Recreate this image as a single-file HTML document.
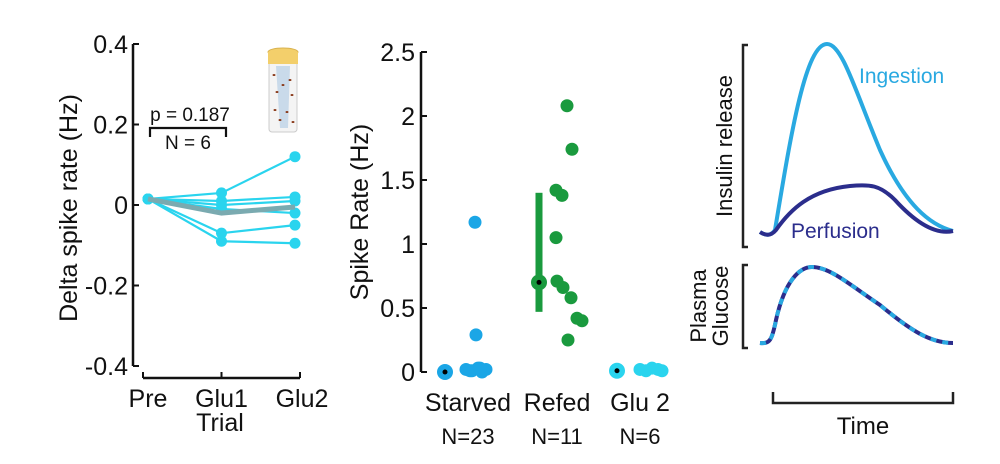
<!DOCTYPE html>
<html><head><meta charset="utf-8"><style>
body{margin:0;background:#fff;}
svg text{font-family:"Liberation Sans",Arial,sans-serif;fill:#111;}
</style></head><body>
<svg width="1000" height="459" viewBox="0 0 1000 459">
<g id="p1"></g>
<g id="p2"></g>
<g id="p3">
  <path d="M748,45 H743 V247 H748" fill="none" stroke="#222" stroke-width="2.5"/>
  <path d="M760,232 C766,236 771,236 775,230 C790,140 805,44 827,44 C842,44 855,90 880,150 C905,205 930,225 953,231" fill="none" stroke="#29a9e1" stroke-width="4"/>
  <path d="M760,232 C766,236 771,236 776,230 C790,210 810,190 850,186 C870,184 880,185 895,200 C915,222 935,235 953,231" fill="none" stroke="#2b2d8c" stroke-width="4"/>
  <text x="859" y="83" font-size="21" style="fill:#29a9e1">Ingestion</text>
  <text x="791" y="238" font-size="21" style="fill:#2b2d8c">Perfusion</text>
  <text transform="translate(732,146) rotate(-90)" font-size="22" text-anchor="middle">Insulin release</text>
  <path d="M748,265 H743 V348 H748" fill="none" stroke="#222" stroke-width="2.5"/>
  <path d="M760,343 C770,344 772,340 776,320 C785,280 800,267 812,267 C830,267 850,285 880,305 C910,330 930,343 953,343" fill="none" stroke="#2b2d8c" stroke-width="4"/>
  <path d="M760,343 C770,344 772,340 776,320 C785,280 800,267 812,267 C830,267 850,285 880,305 C910,330 930,343 953,343" fill="none" stroke="#29a9e1" stroke-width="4" stroke-dasharray="6 6"/>
  <text transform="translate(706,306) rotate(-90)" font-size="22" text-anchor="middle">Plasma</text>
  <text transform="translate(728,306) rotate(-90)" font-size="22" text-anchor="middle">Glucose</text>
  <path d="M773,392 V403 H953 V392" fill="none" stroke="#222" stroke-width="2.5"/>
  <text x="863" y="434" font-size="24" text-anchor="middle">Time</text>
</g>
</svg>
<script>
const NS="http://www.w3.org/2000/svg";
function mk(p,tag,a){const e=document.createElementNS(NS,tag);for(const k in a)e.setAttribute(k,a[k]);p.appendChild(e);return e;}
// ---- Panel 1 data
const trials=["Pre","Glu1","Glu2"];
const cell1=[0.015,0.03,0.12];
const cell2=[0.015,0.01,0.02];
const cell3=[0.015,0.0,0.01];
const cell4=[0.015,-0.01,-0.02];
const cell5=[0.015,-0.07,-0.05];
const cell6=[0.015,-0.09,-0.095];
const meanDelta=[0.015,-0.02,-0.005];
const yTicks1=[0.4,0.2,0,-0.2,-0.4];
const yTickLabels1=["0.4","0.2","0","-0.2","-0.4"];
// ---- Panel 2 data
const groups=["Starved","Refed","Glu 2"];
const groupN=["N=23","N=11","N=6"];
const starvedVals=[1.17,0.29,0.02,0.01,0.03,0.0,0.02,0.01,0.03];
const refedVals=[2.08,1.74,1.42,1.38,1.05,0.71,0.66,0.58,0.42,0.4,0.25];
const glu2Vals=[0.02,0.01,0.03,0.02,0.01];
const groupMedian=[0,0.7,0.01];
const refedErrLow=[0.47];
const refedErrHigh=[1.4];
const yTicks2=[0,0.5,1,1.5,2,2.5];
const yTickLabels2=["0","0.5","1","1.5","2","2.5"];

const p1=document.getElementById('p1');
const y1=v=>205-v*(161/0.4);
const x1=i=>148+i*73.5;
let e=mk(p1,'line',{x1:133,y1:y1(0.4),x2:133,y2:y1(-0.4),stroke:'#111','stroke-width':2.5});


yTicks1.forEach((t,i)=>{
  const l=mk(p1,'line',{x1:133,x2:139,y1:y1(t),y2:y1(t),stroke:'#111','stroke-width':2});
  
  
  const tx=mk(p1,'text',{x:128,y:y1(t)+9,'font-size':25,'text-anchor':'end'});tx.textContent=yTickLabels1[i];
  
  
});
e=mk(p1,'line',{x1:143,x2:300,y1:378,y2:378,stroke:'#111','stroke-width':2.5});


trials.forEach((t,i)=>{
  const xx=x1(i)-(i==0?5:0)+(i==2?5:0);
  const l=mk(p1,'line',{x1:xx,x2:xx,y1:372,y2:378,stroke:'#111','stroke-width':2});
  
  
  const tx=mk(p1,'text',{x:x1(i)+(i==2?7:0),y:407,'font-size':25,'text-anchor':'middle'});tx.textContent=t;
  
  
});
e=mk(p1,'text',{x:220,y:431,'font-size':25,'text-anchor':'middle'});e.textContent='Trial';


e=mk(p1,'text',{transform:'translate(77,208) rotate(-90)','font-size':25,'text-anchor':'middle'});e.textContent='Delta spike rate (Hz)';


[cell1,cell2,cell3,cell4,cell5,cell6].forEach((s,k)=>{
  const pts=s.map((v,i)=>x1(i)+','+y1(v)).join(' ');
  const pl=mk(p1,'polyline',{points:pts,fill:'none',stroke:'#2ad4ee','stroke-width':2.2});
  
  
  s.forEach((v,i)=>{const c=mk(p1,'circle',{cx:x1(i),cy:y1(v),r:5.5,fill:'#2ad4ee'});
    
    });
});
e=mk(p1,'polyline',{points:meanDelta.map((v,i)=>x1(i)+','+y1(v)).join(' '),fill:'none',stroke:'#7aaab0','stroke-width':5});


e=mk(p1,'text',{x:190,y:121,'font-size':19,'text-anchor':'middle'});e.textContent='p = 0.187';


e=mk(p1,'path',{d:'M150,137 V128 H226 V137',fill:'none',stroke:'#111','stroke-width':2.2});


e=mk(p1,'text',{x:188,y:149,'font-size':19,'text-anchor':'middle'});e.textContent='N = 6';


// vial
const vial=mk(p1,'g',{});


mk(vial,'rect',{x:269,y:60,width:28,height:72,rx:3,fill:'#f4f4f4',stroke:'#ccc'});
mk(vial,'path',{d:'M276,66 L290,66 L288,128 L280,128 Z',fill:'#c9daea'});
mk(vial,'ellipse',{cx:283,cy:52,rx:15,ry:4,fill:'#f3cf6b',stroke:'#d9b24f'});
mk(vial,'rect',{x:268,y:52,width:30,height:12,fill:'#f3cf6b'});
[[274,75],[290,80],[277,92],[292,95],[275,110],[287,112],[280,120],[293,122],[283,85]].forEach(p=>mk(vial,'ellipse',{cx:p[0],cy:p[1],rx:1.5,ry:1,fill:'#8a3a1a'}));

// ---- Panel 2
const p2=document.getElementById('p2');
const y2=v=>372-v*128;
e=mk(p2,'line',{x1:421,x2:421,y1:y2(2.5),y2:y2(0),stroke:'#111','stroke-width':2.5});


yTicks2.forEach((t,i)=>{
  const l=mk(p2,'line',{x1:421,x2:427,y1:y2(t),y2:y2(t),stroke:'#111','stroke-width':2});
  
  
  const tx=mk(p2,'text',{x:415,y:y2(t)+9,'font-size':25,'text-anchor':'end'});tx.textContent=yTickLabels2[i];
  
  
});
e=mk(p2,'text',{transform:'translate(368,212) rotate(-90)','font-size':25,'text-anchor':'middle'});e.textContent='Spike Rate (Hz)';


const gx=[468,557,640];
groups.forEach((g,i)=>{
  const t=mk(p2,'text',{x:gx[i],y:411,'font-size':25,'text-anchor':'middle'});t.textContent=g;
  
  
  const n=mk(p2,'text',{x:gx[i],y:444,'font-size':22,'text-anchor':'middle'});n.textContent=groupN[i];
  
  
});
// error bar
e=mk(p2,'rect',{x:535.5,y:y2(refedErrHigh[0]),width:7,height:y2(refedErrLow[0])-y2(refedErrHigh[0]),fill:'#1a9a3e'});


const cols=['#1ba6e6','#1a9a3e','#2ad4ee'];
const jit=[[475,476,466,472,478,482,486,470,480],[567,572,556,562,556,557,563,571,577,582,568],[640,646,652,658,662]];
[starvedVals,refedVals,glu2Vals].forEach((arr,gi)=>{
  arr.forEach((v,k)=>{
    const c=mk(p2,'circle',{cx:jit[gi][k%jit[gi].length],cy:y2(v),r:6.5,fill:cols[gi]});
    
    
  });
});
const mx=[445,539,617];
groupMedian.forEach((v,i)=>{
  const c=mk(p2,'circle',{cx:mx[i],cy:y2(v),r:8,fill:cols[i]});
  
  
  mk(p2,'circle',{cx:mx[i],cy:y2(v),r:2.5,fill:'#000'});
});
</script>
</body></html>
